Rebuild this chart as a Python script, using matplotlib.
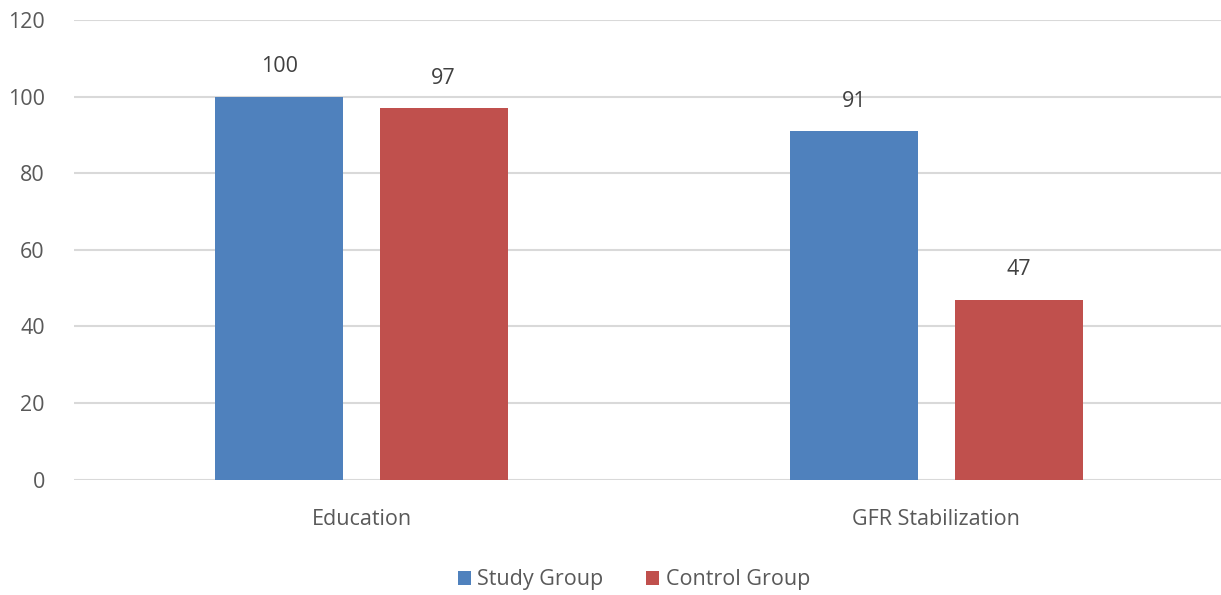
import numpy as np
from matplotlib import pyplot as plt

categories = ['Education', 'GFR Stabilization']
series_names = ['Study Group', 'Control Group']
study_group = [100, 91]
control_group = [97, 47]
y_ticks = [0, 20, 40, 60, 80, 100, 120]

colors = ['#4F81BD', '#C0504D']
text_color = '#595959'

plt.rcParams['font.family'] = ['Open Sans', 'DejaVu Sans']

fig = plt.figure(figsize=(12.21, 5.95), dpi=100)
ax = fig.add_axes([74 / 1221, 115.5 / 595, 1 - 74 / 1221, 459.5 / 595])

x = np.arange(len(categories))
width = 0.223
offset = 0.143

for i, (vals, name) in enumerate(zip([study_group, control_group], series_names)):
    pos = x + (offset if i else -offset)
    bars = ax.bar(pos, vals, width, color=colors[i], label=name, zorder=3)
    for b, v in zip(bars, vals):
        ax.annotate(str(v), (b.get_x() + b.get_width() / 2, v),
                    xytext=(0, 14), textcoords='offset points',
                    ha='center', va='bottom', fontsize=15.5, color='#404040')

ax.set_xlim(-0.5, 1.495)
ax.set_ylim(0, 120)
ax.set_yticks(y_ticks)
ax.set_xticks(x)
ax.set_xticklabels(categories)
ax.yaxis.grid(True, color='#D9D9D9', linewidth=1.5, zorder=0)
ax.set_axisbelow(True)
for s in ax.spines.values():
    s.set_visible(False)
ax.tick_params(axis='y', length=0, pad=21, labelsize=15.5, labelcolor=text_color)
ax.tick_params(axis='x', length=0, pad=21, labelsize=15.5, labelcolor=text_color)

leg = fig.legend(loc='center', bbox_to_anchor=(634 / 1221, 1 - 580 / 595),
                 ncol=2, frameon=False, fontsize=15.5, handlelength=0.6,
                 handleheight=0.6, handletextpad=0.3, columnspacing=2.0)
for t in leg.get_texts():
    t.set_color(text_color)

fig.savefig('out.png', dpi=100)
